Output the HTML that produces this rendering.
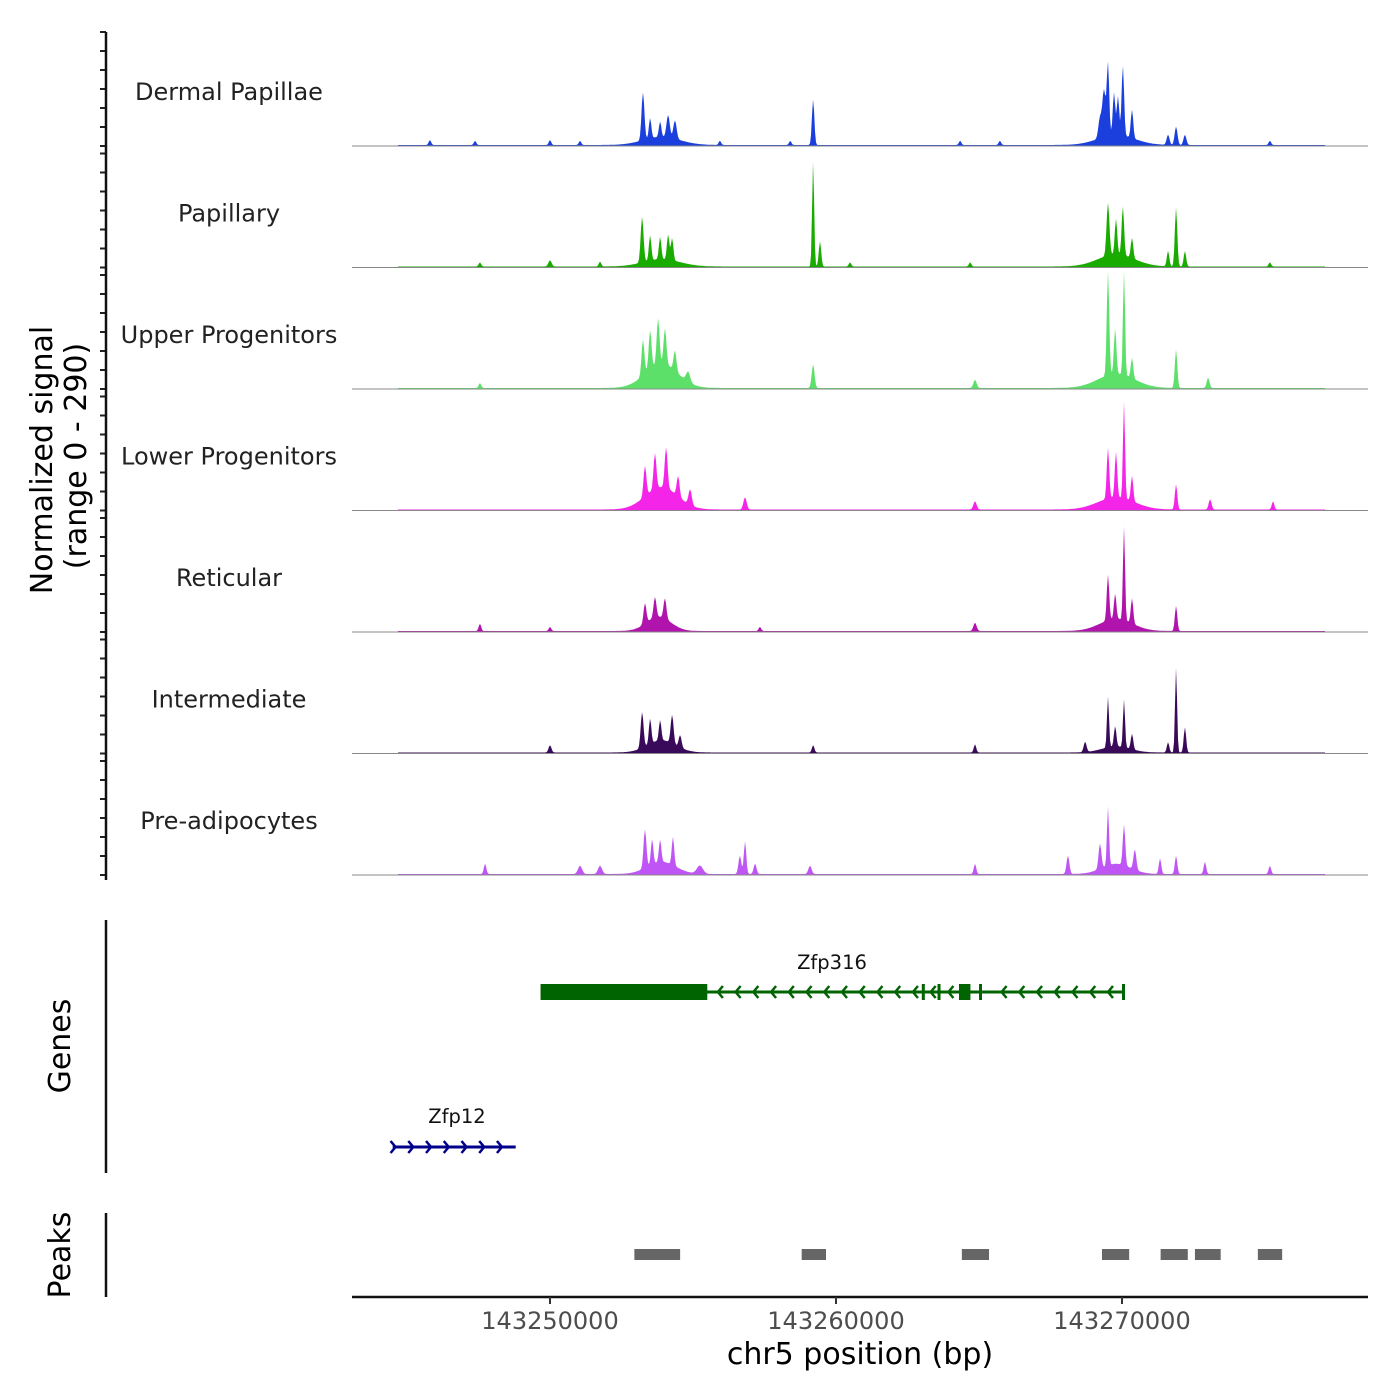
<!DOCTYPE html>
<html><head><meta charset="utf-8">
<style>
html,body{margin:0;padding:0;background:#fff;}
svg{display:block;font-family:"DejaVu Sans","Liberation Sans",sans-serif;}
</style></head>
<body>
<svg id="chart" width="1400" height="1400" viewBox="0 0 1400 1400" xmlns="http://www.w3.org/2000/svg">
<g id="tracks"></g>
<g id="genes"></g>
<g id="peaks"></g>
<g id="axes"></g>
</svg>
<script>
// ---- data (positions in kb relative to chr5:143,000,000; values in signal units, range 0-290) ----
const trackNames = ["Dermal Papillae","Papillary","Upper Progenitors","Lower Progenitors","Reticular","Intermediate","Pre-adipocytes"];
const trackColors = ["#1a3fdc","#1aab00","#5de06a","#f425e8","#b014ad","#3a0a5a","#bf55f5"];
// peaks: [position kb, height, width kb]
const peaksDermal = [[253.25,118,.07],[253.5,50,.06],[253.85,38,.06],[254.13,55,.08],[254.37,45,.08],[253.9,20,.9],[259.2,112,.06],[269.23,50,.08],[269.37,115,.08],[269.51,178,.06],[269.72,105,.06],[269.86,95,.06],[270.03,172,.06],[270.35,70,.06],[269.8,25,.9],[271.61,25,.07],[271.89,45,.07],[272.2,25,.07],[245.8,12,.06],[247.38,10,.06],[250,12,.06],[251.05,10,.06],[255.94,10,.06],[258.4,10,.06],[264.34,10,.06],[265.73,10,.06],[275.17,10,.06]];
const peaksPapillary = [[253.22,112,.07],[253.5,62,.06],[253.85,55,.06],[254.13,62,.06],[254.27,55,.06],[253.9,18,.9],[259.2,258,.05],[259.44,62,.06],[269.51,130,.07],[269.79,88,.06],[270.03,120,.06],[270.35,50,.06],[269.8,30,.9],[271.61,38,.06],[271.89,145,.06],[272.2,38,.06],[247.55,10,.06],[250,15,.08],[251.75,12,.06],[260.49,10,.06],[264.69,10,.06],[275.17,10,.06]];
const peaksUpper = [[253.25,88,.07],[253.5,95,.07],[253.78,113,.07],[254.02,88,.07],[254.37,50,.07],[254.83,25,.1],[253.9,60,.8],[259.2,58,.07],[264.86,20,.08],[269.51,255,.06],[269.76,112,.06],[270.07,270,.05],[270.35,50,.06],[269.8,35,.9],[271.89,95,.06],[273.01,25,.07],[247.55,12,.06]];
const peaksLower = [[253.32,75,.07],[253.67,88,.07],[254.06,100,.07],[254.48,50,.07],[254.9,38,.08],[253.9,55,.8],[256.82,30,.08],[264.86,20,.08],[269.51,125,.06],[269.79,112,.06],[270.07,238,.05],[270.35,62,.06],[269.8,30,.9],[271.89,62,.06],[273.08,25,.07],[275.28,20,.06]];
const peaksReticular = [[253.32,50,.07],[253.67,50,.07],[254.02,50,.07],[253.8,35,.6],[247.55,18,.06],[264.86,20,.08],[269.51,112,.06],[269.76,62,.06],[270.07,230,.05],[270.35,62,.06],[269.8,30,.8],[271.89,62,.06],[250,10,.06],[257.34,10,.06]];
const peaksIntermediate = [[253.22,88,.07],[253.5,62,.06],[253.85,50,.06],[254.27,70,.07],[254.55,30,.07],[253.9,30,.7],[250,18,.07],[259.2,18,.06],[264.86,20,.06],[268.71,25,.07],[269.51,125,.05],[269.76,50,.06],[270.07,118,.05],[270.35,38,.06],[269.8,15,.7],[271.61,25,.06],[271.89,208,.05],[272.2,62,.06]];
const peaksPreadipo = [[253.32,95,.07],[253.57,62,.06],[253.85,55,.06],[254.3,70,.06],[253.9,30,.7],[256.82,80,.06],[256.64,45,.07],[257.17,25,.07],[247.73,25,.06],[251.05,20,.1],[251.75,20,.1],[255.24,20,.15],[259.09,20,.08],[264.86,25,.06],[268.11,45,.07],[269.23,62,.07],[269.51,145,.05],[270.07,100,.06],[270.45,50,.07],[269.8,25,.7],[271.33,38,.06],[271.89,45,.06],[272.9,30,.06],[275.17,20,.06]];
const trackPeaks = [peaksDermal,peaksPapillary,peaksUpper,peaksLower,peaksReticular,peaksIntermediate,peaksPreadipo];
const xTicks = [250,260,270];
const xTickLabels = ["143250000","143260000","143270000"];
const geneNames = ["Zfp316","Zfp12"];
const zfp316Exons = [[249.67,255.5],[263.0,263.1],[263.55,263.65],[264.3,264.7],[265.0,265.06],[270.0,270.07]];
const zfp316Span = [249.67,270.07];
const zfp12Span = [244.5,248.8];
const peakRegions = [[252.95,254.55],[258.8,259.65],[264.4,265.35],[269.3,270.25],[271.35,272.3],[272.55,273.45],[274.75,275.6]];

const NS="http://www.w3.org/2000/svg";
function mk(tag,attrs,parent){const e=document.createElementNS(NS,tag);for(const k in attrs)e.setAttribute(k,attrs[k]);parent.appendChild(e);return e;}
const X0=352,X1=1368,KB0=243.077,KB1=278.601;
function xScale(kb){return X0+(kb-KB0)/(KB1-KB0)*(X1-X0);}
const trackH=121.5, firstBase=146, yMax=290, plotH=118;
function yScale(v,base){return base-v/yMax*plotH;}

const gT=document.getElementById('tracks');
trackNames.forEach((name,i)=>{
  const base=firstBase+i*trackH;
  const pk=trackPeaks[i];
  let d='M398,'+base;
  for(let px=398;px<=1325;px++){
    const kb=KB0+(px-X0)/(X1-X0)*(KB1-KB0);
    let v=2.5;
    for(const p of pk){const t=(kb-p[0])/p[2];if(Math.abs(t)<4)v+=p[1]*Math.exp(-t*t);}
    v=Math.min(v,yMax);
    d+=' L'+px+','+yScale(v,base).toFixed(1);
  }
  d+=' L1325,'+base+' Z';
  const a=mk('path',{d:d,fill:trackColors[i],stroke:'none'},gT);
  
  
  const bl=mk('line',{x1:X0,x2:X1,y1:base,y2:base,stroke:'#888','stroke-width':1},gT);
  
  
  const t=mk('text',{x:229,y:base-46,'text-anchor':'middle','font-size':24,fill:'#222'},gT);
  t.textContent=name;
  
  
  for(let k=0;k<=6;k++){
    const y=base-k*19;
    const tk=mk('line',{x1:100,x2:106,y1:y,y2:y,stroke:'#222','stroke-width':2},gT);
    
    
  }
});

const gG=document.getElementById('genes');
const green='#006400', blue='#00008b';
(function(){
  const y=992;
  const ln=mk('line',{x1:xScale(zfp316Span[0]),x2:xScale(zfp316Span[1]),y1:y,y2:y,stroke:green,'stroke-width':3},gG);
  
  
  for(let kb=zfp316Span[0]+6.2;kb<zfp316Span[1];kb+=0.62){
    const x=xScale(kb);
    let inEx=zfp316Exons.some(e=>kb>e[0]-0.15&&kb<e[1]+0.15);
    if(inEx)continue;
    mk('path',{d:`M${x+5},${y-6} L${x},${y} L${x+5},${y+6}`,stroke:green,'stroke-width':2.5,fill:'none'},gG);
  }
  zfp316Exons.forEach(e=>{
    const r=mk('rect',{x:xScale(e[0]),y:y-8,width:Math.max(3,xScale(e[1])-xScale(e[0])),height:16,fill:green},gG);
    
    
  });
  const t=mk('text',{x:832,y:969,'text-anchor':'middle','font-size':19.5,fill:'#111'},gG);
  t.textContent=geneNames[0];
  
  
  const y2=1147;
  const ln2=mk('line',{x1:xScale(zfp12Span[0]),x2:xScale(zfp12Span[1]),y1:y2,y2:y2,stroke:blue,'stroke-width':3},gG);
  
  
  for(let kb=zfp12Span[0]+0.1;kb<=zfp12Span[1];kb+=0.62){
    const x=xScale(kb);
    mk('path',{d:`M${x-5},${y2-6} L${x},${y2} L${x-5},${y2+6}`,stroke:blue,'stroke-width':2.5,fill:'none'},gG);
  }
  const t2=mk('text',{x:457,y:1123,'text-anchor':'middle','font-size':19.5,fill:'#111'},gG);
  t2.textContent=geneNames[1];
  
  
})();

const gP=document.getElementById('peaks');
peakRegions.forEach(p=>{
  const r=mk('rect',{x:xScale(p[0]),y:1249,width:xScale(p[1])-xScale(p[0]),height:11,fill:'#666'},gP);
  
  
});

const gA=document.getElementById('axes');
[[32,880],[920,1173],[1213,1297]].forEach(s=>{
  const l=mk('line',{x1:106,x2:106,y1:s[0],y2:s[1],stroke:'#111','stroke-width':2.5},gA);
  
  
});
const xl=mk('line',{x1:X0,x2:X1,y1:1297,y2:1297,stroke:'#111','stroke-width':2.5},gA);


xTicks.forEach((t,i)=>{
  const x=xScale(t);
  const tk=mk('line',{x1:x,x2:x,y1:1297,y2:1304,stroke:'#333','stroke-width':2},gA);
  
  
  const lb=mk('text',{x:x,y:1329,'text-anchor':'middle','font-size':24,fill:'#4d4d4d'},gA);
  lb.textContent=xTickLabels[i];
  
  
});
</script>
<svg style="position:absolute;left:0;top:0" width="1400" height="1400">
<text x="860" y="1364" text-anchor="middle" font-size="30" fill="#000" font-family="DejaVu Sans, Liberation Sans, sans-serif">chr5 position (bp)</text>
<text transform="translate(52,460) rotate(-90)" text-anchor="middle" font-size="30" fill="#000" font-family="DejaVu Sans, Liberation Sans, sans-serif">Normalized signal</text>
<text transform="translate(86,456) rotate(-90)" text-anchor="middle" font-size="30" fill="#000" font-family="DejaVu Sans, Liberation Sans, sans-serif">(range 0 - 290)</text>
<text transform="translate(70,1046) rotate(-90)" text-anchor="middle" font-size="30" fill="#000" font-family="DejaVu Sans, Liberation Sans, sans-serif">Genes</text>
<text transform="translate(70,1255) rotate(-90)" text-anchor="middle" font-size="30" fill="#000" font-family="DejaVu Sans, Liberation Sans, sans-serif">Peaks</text>
</svg>
</body></html>
